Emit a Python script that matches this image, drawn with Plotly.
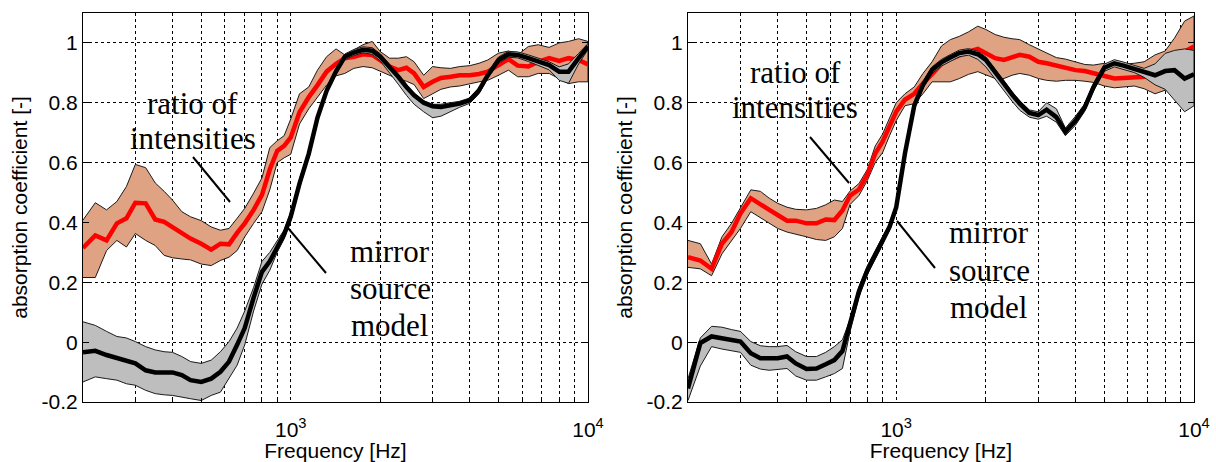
import math
import plotly.graph_objects as go

# Frequency grid shared by all curves [Hz]
FREQ = [200, 220, 240, 260, 280, 300, 325, 350, 375, 400, 430, 460, 500, 540, 580,
        620, 660, 700, 750, 800, 850, 900, 950, 1000, 1070, 1150, 1230, 1320, 1420,
        1520, 1630, 1750, 1880, 2000, 2150, 2300, 2450, 2600, 2800, 3000, 3200, 3450,
        3700, 4000, 4300, 4600, 5000, 5400, 5800, 6300, 6800, 7400, 8000, 8600, 9300,
        10000]

# ---- left panel -------------------------------------------------------------
L_RATIO = [0.315, 0.357, 0.34, 0.397, 0.414, 0.466, 0.464, 0.41, 0.402, 0.385, 0.365,
           0.346, 0.329, 0.309, 0.329, 0.327, 0.365, 0.397, 0.442, 0.492, 0.577, 0.639,
           0.656, 0.684, 0.768, 0.819, 0.859, 0.904, 0.93, 0.949, 0.954, 0.962, 0.96,
           0.943, 0.921, 0.909, 0.917, 0.898, 0.853, 0.87, 0.883, 0.887, 0.892, 0.892,
           0.896, 0.904, 0.928, 0.946, 0.924, 0.921, 0.937, 0.949, 0.94, 0.949, 0.943,
           0.928]
L_RATIO_HI = [0.408, 0.466, 0.442, 0.47, 0.52, 0.594, 0.583, 0.532, 0.504, 0.475, 0.436,
              0.419, 0.406, 0.385, 0.374, 0.38, 0.414, 0.447, 0.498, 0.549, 0.65, 0.673,
              0.69, 0.746, 0.83, 0.853, 0.909, 0.954, 0.98, 0.96, 0.977, 0.994, 1.005,
              0.971, 0.949, 0.949, 0.954, 0.937, 0.892, 0.921, 0.917, 0.915, 0.921, 0.924,
              0.932, 0.943, 0.966, 0.973, 0.96, 0.988, 0.994, 0.985, 1.0, 1.005, 1.014,
              1.005]
L_RATIO_LO = [0.216, 0.216, 0.306, 0.34, 0.318, 0.363, 0.34, 0.323, 0.29, 0.282, 0.278,
              0.275, 0.261, 0.256, 0.273, 0.284, 0.306, 0.352, 0.397, 0.436, 0.509, 0.6,
              0.616, 0.628, 0.729, 0.78, 0.819, 0.859, 0.89, 0.898, 0.915, 0.921, 0.917,
              0.904, 0.892, 0.879, 0.872, 0.861, 0.814, 0.83, 0.845, 0.853, 0.856, 0.864,
              0.87, 0.875, 0.892, 0.909, 0.887, 0.887, 0.898, 0.898, 0.881, 0.864, 0.87,
              0.87]
L_MIRROR = [-0.034, -0.029, -0.043, -0.054, -0.063, -0.071, -0.094, -0.101, -0.101,
            -0.101, -0.11, -0.127, -0.133, -0.122, -0.099, -0.065, -0.009, 0.047, 0.149,
            0.235, 0.27, 0.32, 0.36, 0.42, 0.53, 0.63, 0.75, 0.84, 0.905, 0.954, 0.968,
            0.977, 0.974, 0.954, 0.921, 0.887, 0.853, 0.825, 0.80, 0.788, 0.786, 0.791,
            0.797, 0.808, 0.842, 0.892, 0.943, 0.962, 0.96, 0.949, 0.937, 0.926, 0.904,
            0.904, 0.949, 0.988]
L_MIRROR_HI = [0.068, 0.056, 0.036, 0.019, 0.014, 0.002, -0.015, -0.026, -0.032, -0.034,
               -0.048, -0.065, -0.071, -0.06, -0.032, 0.002, 0.047, 0.104, 0.183, 0.27,
               0.30, 0.34, 0.375, 0.435, 0.545, 0.642, 0.76, 0.85, 0.915, 0.963, 0.978,
               0.987, 0.984, 0.964, 0.93, 0.895, 0.86, 0.832, 0.807, 0.795, 0.795, 0.80,
               0.805, 0.816, 0.85, 0.90, 0.953, 0.972, 0.97, 0.96, 0.948, 0.937, 0.92,
               0.93, 0.965, 0.998]
L_MIRROR_LO = [-0.133, -0.116, -0.122, -0.127, -0.139, -0.144, -0.161, -0.172, -0.176,
               -0.178, -0.184, -0.189, -0.195, -0.178, -0.167, -0.122, -0.077, -0.009,
               0.104, 0.194, 0.24, 0.30, 0.345, 0.405, 0.515, 0.618, 0.74, 0.83, 0.895,
               0.944, 0.958, 0.967, 0.962, 0.94, 0.90, 0.862, 0.825, 0.795, 0.77, 0.75,
               0.755, 0.77, 0.785, 0.798, 0.83, 0.882, 0.933, 0.952, 0.95, 0.938, 0.926,
               0.91, 0.875, 0.865, 0.93, 0.978]

# ---- right panel ------------------------------------------------------------
R_RATIO = [0.284, 0.273, 0.245, 0.329, 0.368, 0.43, 0.481, 0.459, 0.442, 0.425, 0.406,
           0.406, 0.397, 0.397, 0.41, 0.408, 0.44, 0.49, 0.51, 0.56, 0.63, 0.67, 0.72,
           0.77, 0.81, 0.83, 0.864, 0.898, 0.93, 0.946, 0.96, 0.971, 0.98, 0.966, 0.949,
           0.943, 0.951, 0.96, 0.954, 0.937, 0.932, 0.924, 0.917, 0.909, 0.906, 0.898,
           0.887, 0.881, 0.883, 0.887, 0.887, 0.898, 0.915, 0.937, 0.971, 0.988]
R_RATIO_HI = [0.34, 0.329, 0.261, 0.352, 0.397, 0.447, 0.509, 0.504, 0.481, 0.464, 0.451,
              0.444, 0.442, 0.447, 0.459, 0.475, 0.47, 0.505, 0.53, 0.577, 0.655, 0.695,
              0.746, 0.80, 0.83, 0.853, 0.898, 0.937, 0.99, 1.011, 1.022, 1.037, 1.056,
              1.045, 1.028, 1.019, 1.014, 1.011, 0.994, 0.98, 0.966, 0.951, 0.946, 0.937,
              0.928, 0.926, 0.932, 0.926, 0.928, 0.932, 0.937, 0.96, 0.973, 1.016, 1.073,
              1.09]
R_RATIO_LO = [0.25, 0.245, 0.222, 0.295, 0.34, 0.38, 0.436, 0.414, 0.397, 0.38, 0.368,
              0.361, 0.352, 0.343, 0.34, 0.352, 0.38, 0.46, 0.49, 0.54, 0.60, 0.633, 0.69,
              0.74, 0.79, 0.797, 0.83, 0.87, 0.87, 0.87, 0.881, 0.895, 0.904, 0.892,
              0.881, 0.881, 0.892, 0.898, 0.892, 0.881, 0.875, 0.872, 0.875, 0.875, 0.872,
              0.868, 0.856, 0.85, 0.853, 0.856, 0.847, 0.83, 0.842, 0.847, 0.859, 0.881]
R_MIRROR = [-0.155, -0.003, 0.019, 0.014, 0.008, 0.002, -0.037, -0.054, -0.054, -0.054,
            -0.048, -0.071, -0.09, -0.088, -0.074, -0.06, -0.03, 0.06, 0.17, 0.24, 0.29,
            0.34, 0.385, 0.45, 0.63, 0.79, 0.86, 0.91, 0.935, 0.951, 0.966, 0.971, 0.962,
            0.943, 0.904, 0.864, 0.827, 0.797, 0.766, 0.759, 0.777, 0.752, 0.703, 0.74,
            0.785, 0.853, 0.917, 0.932, 0.924, 0.913, 0.901, 0.892, 0.906, 0.909, 0.881,
            0.895]
R_MIRROR_HI = [-0.122, 0.014, 0.053, 0.05, 0.042, 0.036, 0.002, -0.012, -0.015, -0.015,
               -0.011, -0.032, -0.048, -0.048, -0.034, -0.015, 0.008, 0.075, 0.185, 0.255,
               0.305, 0.355, 0.397, 0.462, 0.642, 0.80, 0.87, 0.92, 0.945, 0.961, 0.976,
               0.981, 0.972, 0.953, 0.914, 0.874, 0.837, 0.807, 0.776, 0.77, 0.80, 0.78,
               0.715, 0.755, 0.797, 0.865, 0.929, 0.944, 0.936, 0.925, 0.915, 0.93, 0.965,
               0.975, 0.98, 0.975]
R_MIRROR_LO = [-0.195, -0.08, -0.015, -0.023, -0.029, -0.034, -0.077, -0.09, -0.094,
               -0.091, -0.088, -0.113, -0.127, -0.127, -0.116, -0.105, -0.088, 0.035,
               0.15, 0.225, 0.275, 0.325, 0.373, 0.438, 0.618, 0.778, 0.848, 0.898, 0.923,
               0.939, 0.954, 0.959, 0.945, 0.92, 0.88, 0.84, 0.805, 0.775, 0.752, 0.745,
               0.755, 0.735, 0.69, 0.725, 0.772, 0.84, 0.905, 0.92, 0.912, 0.901, 0.885,
               0.86, 0.845, 0.81, 0.77, 0.79]

Y_TICKS = [-0.2, 0, 0.2, 0.4, 0.6, 0.8, 1]
Y_TICK_TEXT = ["-0.2", "0", "0.2", "0.4", "0.6", "0.8", "1"]
X_TICKS = [1000, 10000]
X_TICK_TEXT = ["10<sup>3</sup>", "10<sup>4</sup>"]
X_MINOR = [300, 400, 500, 600, 700, 800, 900, 2000, 3000, 4000, 5000, 6000, 7000,
           8000, 9000]
X_TITLE = "Frequency [Hz]"
Y_TITLE = "absorption coefficient [-]"

W, H = 1216, 462
BAND_RATIO = "#DFA283"
BAND_MIRROR = "#BEBEBE"
SANS = "Liberation Sans, Arial, sans-serif"
SERIF = "Liberation Serif, Times New Roman, serif"

fig = go.Figure()


def band(xa, ya, hi, lo, color):
    fig.add_trace(go.Scatter(
        x=FREQ + FREQ[::-1], y=hi + lo[::-1], xaxis=xa, yaxis=ya,
        mode="lines", fill="toself", fillcolor=color,
        line=dict(color="#1a1a1a", width=1), hoverinfo="skip"))


def curve(xa, ya, vals, color):
    fig.add_trace(go.Scatter(
        x=FREQ, y=vals, xaxis=xa, yaxis=ya, mode="lines",
        line=dict(color=color, width=4.5)))


for xa, ya, rat, rhi, rlo, mir, mhi, mlo in [
        ("x", "y", L_RATIO, L_RATIO_HI, L_RATIO_LO, L_MIRROR, L_MIRROR_HI, L_MIRROR_LO),
        ("x2", "y2", R_RATIO, R_RATIO_HI, R_RATIO_LO, R_MIRROR, R_MIRROR_HI, R_MIRROR_LO)]:
    band(xa, ya, rhi, rlo, BAND_RATIO)
    curve(xa, ya, rat, "#FF0000")
    band(xa, ya, mhi, mlo, BAND_MIRROR)
    curve(xa, ya, mir, "#000000")

grid_style = dict(showgrid=True, gridcolor="#000", gridwidth=1, griddash="3px,3px")
label_font = dict(family=SANS, size=21, color="#000")
# decade ticks are pushed outward (invisible) so that their labels sit lower
x_common = dict(type="log", range=[math.log10(200), 4], tickvals=X_TICKS,
                ticktext=X_TICK_TEXT, ticks="outside", ticklen=9,
                tickcolor="rgba(0,0,0,0)",
                showline=True, linecolor="#000", linewidth=1, mirror=True,
                zeroline=False, automargin=False,
                minor=dict(tickvals=X_MINOR, ticks="inside", ticklen=4,
                           tickcolor="#000", **grid_style),
                title=dict(text=X_TITLE, font=label_font, standoff=9),
                tickfont=label_font, **grid_style)
y_common = dict(range=[-0.2, 1.1], tickvals=Y_TICKS, ticktext=Y_TICK_TEXT,
                ticks="inside", ticklen=6, tickcolor="#000", showline=True,
                linecolor="#000", linewidth=1, mirror="ticks", zeroline=False,
                automargin=False,
                title=dict(text=Y_TITLE, font=label_font, standoff=8),
                tickfont=label_font, **grid_style)

Y_DOM = [1 - 402 / H, 1 - 13 / H]
X_DOM_L = [83 / W, 588 / W]
X_DOM_R = [688 / W, 1194 / W]

fig.update_layout(
    width=W, height=H, margin=dict(l=0, r=0, t=0, b=0),
    paper_bgcolor="white", plot_bgcolor="white", showlegend=False,
    xaxis=dict(domain=X_DOM_L, anchor="y", **x_common),
    yaxis=dict(domain=Y_DOM, anchor="x", **y_common),
    xaxis2=dict(domain=X_DOM_R, anchor="y2", **x_common),
    yaxis2=dict(domain=Y_DOM, anchor="x2", **y_common),
)

ann = []


def px(x, y):
    return x / W, 1 - y / H


def label(x, y, text, size=31):
    xp, yp = px(x, y)
    ann.append(dict(x=xp, y=yp, xref="paper", yref="paper", text=text,
                    showarrow=False, xanchor="center", yanchor="middle",
                    font=dict(family=SERIF, size=size, color="#000")))


# curve labels (one annotation per text line)
for cx, lines in [(193, [("ratio of", 103), ("intensities", 138)]),
                  (390, [("mirror", 252), ("source", 288), ("model", 325)]),
                  (795, [("ratio of", 72), ("intensities", 108)]),
                  (989, [("mirror", 233), ("source", 270), ("model", 307)])]:
    for txt, cy in lines:
        label(cx, cy, txt)

shapes = []
for x0, y0, x1, y1 in [(193, 157, 230, 202), (288, 228, 326, 273),
                       (810, 137, 849, 183), (897, 221, 935, 268)]:
    a = px(x0, y0)
    b = px(x1, y1)
    shapes.append(dict(type="line", xref="paper", yref="paper", x0=a[0], y0=a[1],
                       x1=b[0], y1=b[1], line=dict(color="#000", width=2)))

fig.update_layout(annotations=ann, shapes=shapes)
fig.write_html("out.html")
